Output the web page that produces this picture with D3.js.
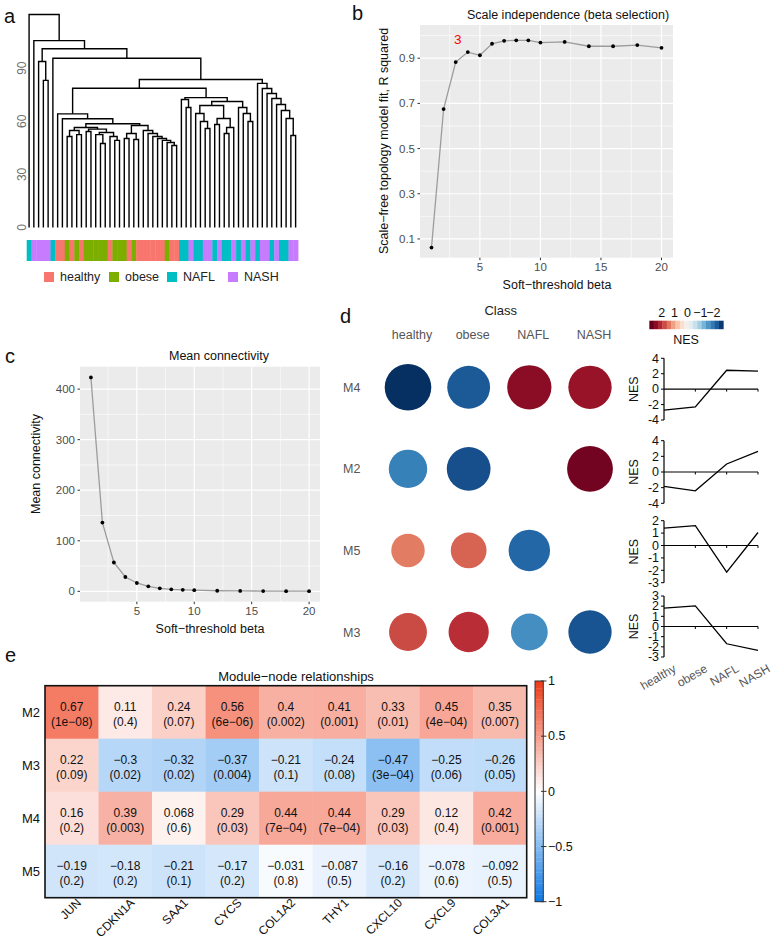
<!DOCTYPE html>
<html>
<head>
<meta charset="utf-8">
<script src="https://cdn.jsdelivr.net/npm/d3@7/dist/d3.min.js"></script>
<style>
html,body{margin:0;padding:0;background:#fff;}
svg{display:block;}
text{font-family:"Liberation Sans",Arial,Helvetica,sans-serif;}
</style>
</head>
<body>
<svg id="fig" width="777" height="941" viewBox="0 0 777 941"></svg>
<script>
// ================= DATA =================
// Panel a: sample dendrogram
const classNames = ["healthy", "obese", "NAFL", "NASH"];
const classColors = ["#F8766D", "#7CAE00", "#00BFC4", "#C77CFF"];
const sampleClass = [2, 3,3,3,3, 2, 0,0, 1, 0, 1, 0, 1,1,1,1,1, 0, 1,1,1, 0, 1, 0,0,0,0,0,0, 1, 0,0,
                     2,2, 3, 2,2, 3,3, 2, 3, 2,2, 3, 2, 3, 2, 3, 2, 3,3, 2, 3, 2,2, 3,3];
// merges: [height, left, right]; numbers are leaf indices
const subF1d = [56.5, [54.8, [51.4, 8, 9], [52.5, 10, 11]], [55.6, [54.2, 12, 13], [53.7, [52.5, 14, [47.5, 15, 16]], [51.4, 17, [49.2, 18, 19]]]]];
const subF1e = [57.6, [53.1, [50.3, 20, 21], [49.7, 22, 23]], [54.8, 24, [53.1, 25, [51.4, 26, [50.3, 27, [49.2, 28, [48.0, 29, [46.3, 30, 31]]]]]]]];
const subF1 = [64.2, 6, [61.4, 7, [58.6, subF1d, subF1e]]];
const subU1 = [64.4, 35, [59.9, 36, [55.9, 37, 38]]];
const subU2 = [61.6, [58.2, 39, 40], [56.5, [53.1, 41, 42], 43]];
const subT2b = [67.8, 44, [64.4, 45, [59.9, 46, 47]]];
const subF2 = [73.4, [72.3, 32, [67.8, 33, 34]], [71.2, [68.9, subU1, subU2], subT2b]];
const subG = [81.4, 48, [78.5, 49, [75.7, 50, [72.9, 51, [69.5, 52, [66.1, 53, [61.6, 54, [52.0, 55, 56]]]]]]]];
const dendroTree = [120.3, 0, [105.6, 1, [101.0, [93.8, 2, [83.1, 3, 4]], [95.6, 5, [83.6, [78.7, subF1, subF2], subG]]]]];
const dendroTicks = [0, 30, 60, 90];

// Panels b, c: soft-threshold selection
const betas = [1, 2, 3, 4, 5, 6, 7, 8, 9, 10, 12, 14, 16, 18, 20];
const rSquared = [0.062, 0.675, 0.883, 0.927, 0.913, 0.964, 0.977, 0.979, 0.979, 0.969, 0.972, 0.953, 0.953, 0.958, 0.946];
const meanConn = [423, 136, 57, 28.4, 16.5, 10, 6, 4, 3, 2.2, 1.2, 0.8, 0.6, 0.4, 0.3];
const chosenBeta = 3;
const betaTicks = [5, 10, 15, 20];
const betaMinor = [2.5, 7.5, 12.5, 17.5];
const r2Ticks = [0.1, 0.3, 0.5, 0.7, 0.9];
const r2Minor = [0.2, 0.4, 0.6, 0.8, 1.0];
const connTicks = [0, 100, 200, 300, 400];
const connMinor = [50, 150, 250, 350];

// Panel d: module NES per class
const modulesD = ["M4", "M2", "M5", "M3"];
const nesM4 = [-2.72, -2.3, 2.45, 2.35];
const nesM2 = [-1.85, -2.4, 1.02, 2.63];
const nesM5 = [1.4, 1.6, -2.15, 1.05];
const nesM3 = [1.8, 2.03, -1.7, -2.35];
const sigM4 = [1, 1, 1, 1];
const sigM2 = [1, 1, 0, 1];
const sigM5 = [1, 1, 1, 0];
const sigM3 = [1, 1, 1, 1];
const nesTicksM4 = [4, 2, 0, -2, -4];
const nesTicksM2 = [4, 2, 0, -2, -4];
const nesTicksM5 = [2, 1, 0, -1, -2, -3];
const nesTicksM3 = [3, 2, 1, 0, -1, -2, -3];
const nesLegendTicks = [2, 1, 0, -1, -2];

// Panel e: module-node relationships
const genes = ["JUN", "CDKN1A", "SAA1", "CYCS", "COL1A2", "THY1", "CXCL10", "CXCL9", "COL3A1"];
const heatRows = ["M2", "M3", "M4", "M5"];
const corM2 = [0.67, 0.11, 0.24, 0.56, 0.4, 0.41, 0.33, 0.45, 0.35];
const pM2 = [1e-8, 0.4, 0.07, 6e-6, 0.002, 0.001, 0.01, 4e-4, 0.007];
const corM3 = [0.22, -0.3, -0.32, -0.37, -0.21, -0.24, -0.47, -0.25, -0.26];
const pM3 = [0.09, 0.02, 0.02, 0.004, 0.1, 0.08, 3e-4, 0.06, 0.05];
const corM4 = [0.16, 0.39, 0.068, 0.29, 0.44, 0.44, 0.29, 0.12, 0.42];
const pM4 = [0.2, 0.003, 0.6, 0.03, 7e-4, 7e-4, 0.03, 0.4, 0.001];
const corM5 = [-0.19, -0.18, -0.21, -0.17, -0.031, -0.087, -0.16, -0.078, -0.092];
const pM5 = [0.2, 0.2, 0.1, 0.2, 0.8, 0.5, 0.2, 0.6, 0.5];
const corTicks = [1, 0.5, 0, -0.5, -1];

// ================= DRAWING =================
const svg = d3.select("#fig");
const MINUS = "\u2212";
const fmtNum = v => String(v).replace("-", MINUS);

function panelLabel(x, y, s) {
  svg.append("text").attr("x", x).attr("y", y).attr("font-size", 20).attr("fill", "#111").text(s);
}
panelLabel(4, 23, "a"); panelLabel(352, 20, "b"); panelLabel(5, 363, "c");
panelLabel(340, 323, "d"); panelLabel(5, 662, "e");

// ---------- Panel a ----------
(function () {
  const g = svg.append("g");
  const xLeaf = d3.scaleBand().domain(d3.range(sampleClass.length)).range([26.7, 298]);
  const yDen = d3.scaleLinear().domain([0, 120]).range([227.5, 15.1]);
  const toNode = a => Array.isArray(a) ? { h: a[0], kids: [toNode(a[1]), toNode(a[2])] } : { h: 0, leaf: a };
  const root = d3.hierarchy(toNode(dendroTree), d => d.kids);
  root.eachAfter(n => {
    n.px = n.children ? (n.children[0].px + n.children[1].px) / 2 : xLeaf(n.data.leaf) + xLeaf.bandwidth() / 2;
    n.py = yDen(n.data.h);
  });
  g.selectAll(null).data(root.descendants().filter(n => n.children)).enter().append("path")
    .attr("d", n => { const [a, b] = n.children; return `M${a.px},${a.py}V${n.py}H${b.px}V${b.py}`; })
    .attr("fill", "none").attr("stroke", "#000").attr("stroke-width", 1.4);
  g.selectAll(null).data(dendroTicks).enter().append("text")
    .attr("transform", t => `translate(26,${yDen(t)}) rotate(-90)`)
    .attr("text-anchor", "middle").attr("font-size", 12).attr("fill", "#707070").text(t => t);
  g.selectAll(null).data(sampleClass).enter().append("rect")
    .attr("x", (d, i) => xLeaf(i)).attr("y", 240).attr("width", xLeaf.bandwidth() + 0.4).attr("height", 21)
    .attr("fill", d => classColors[d]);
  const legX = [44, 109, 167, 228];
  classNames.forEach((c, i) => {
    g.append("rect").attr("x", legX[i]).attr("y", 272).attr("width", 10).attr("height", 10).attr("fill", classColors[i]);
    g.append("text").attr("x", legX[i] + 16).attr("y", 281).attr("font-size", 12.5).attr("fill", "#222").text(c);
  });
})();

// ---------- Panels b & c (ggplot style) ----------
function ggPanel(cfg) {
  const g = svg.append("g");
  const x = d3.scaleLinear().domain([0.05, 20.95]).range([cfg.x0, cfg.x1]);
  const y = d3.scaleLinear().domain(cfg.yDom).range([cfg.y1, cfg.y0]);
  g.append("rect").attr("x", cfg.x0).attr("y", cfg.y0).attr("width", cfg.x1 - cfg.x0).attr("height", cfg.y1 - cfg.y0).attr("fill", "#EBEBEB");
  const hl = (arr, w) => g.selectAll(null).data(arr).enter().append("line")
    .attr("x1", cfg.x0).attr("x2", cfg.x1).attr("y1", d => y(d)).attr("y2", d => y(d)).attr("stroke", "#fff").attr("stroke-width", w);
  const vl = (arr, w) => g.selectAll(null).data(arr).enter().append("line")
    .attr("y1", cfg.y0).attr("y2", cfg.y1).attr("x1", d => x(d)).attr("x2", d => x(d)).attr("stroke", "#fff").attr("stroke-width", w);
  hl(cfg.yMinor, 0.6); vl(betaMinor, 0.6); hl(cfg.yTicks, 1.2); vl(betaTicks, 1.2);
  const line = d3.line().x((d, i) => x(betas[i])).y(d => y(d));
  g.append("path").datum(cfg.vals).attr("d", line).attr("fill", "none").attr("stroke", "#9c9c9c").attr("stroke-width", 1.3);
  g.selectAll(null).data(cfg.vals).enter().append("circle")
    .attr("cx", (d, i) => x(betas[i])).attr("cy", d => y(d)).attr("r", 1.9).attr("fill", "#000");
  // axes
  g.selectAll(null).data(cfg.yTicks).enter().append("line")
    .attr("x1", cfg.x0 - 2.5).attr("x2", cfg.x0).attr("y1", d => y(d)).attr("y2", d => y(d)).attr("stroke", "#333").attr("stroke-width", 1);
  g.selectAll(null).data(cfg.yTicks).enter().append("text")
    .attr("x", cfg.x0 - 5).attr("y", d => y(d) + 4).attr("text-anchor", "end").attr("font-size", 11.5).attr("fill", "#4D4D4D").text(d => d);
  g.selectAll(null).data(betaTicks).enter().append("line")
    .attr("y1", cfg.y1).attr("y2", cfg.y1 + 2.5).attr("x1", d => x(d)).attr("x2", d => x(d)).attr("stroke", "#333").attr("stroke-width", 1);
  g.selectAll(null).data(betaTicks).enter().append("text")
    .attr("x", d => x(d)).attr("y", cfg.y1 + 13.5).attr("text-anchor", "middle").attr("font-size", 11.5).attr("fill", "#4D4D4D").text(d => d);
  g.append("text").attr("x", cfg.titleX).attr("y", cfg.y0 - 6.5).attr("text-anchor", "middle").attr("font-size", 12.5).attr("fill", "#111").text(cfg.title);
  g.append("text").attr("x", cfg.xlabX).attr("y", cfg.y1 + 31.5).attr("text-anchor", "middle").attr("font-size", 12.5).attr("fill", "#111").text("Soft" + MINUS + "threshold beta");
  g.append("text").attr("transform", `translate(${cfg.ylabX},${cfg.ylabY}) rotate(-90)`).attr("text-anchor", "middle").attr("font-size", 12.5).attr("fill", "#111").text(cfg.ylab);
  return { x, y, g };
}

const pb = ggPanel({
  x0: 420, x1: 673, y0: 25, y1: 257.7, yDom: [0.017, 1.047], yTicks: r2Ticks, yMinor: r2Minor, vals: rSquared,
  title: "Scale independence (beta selection)", titleX: 568, xlabX: 557,
  ylab: "Scale" + MINUS + "free topology model fit, R squared", ylabX: 388, ylabY: 141
});
pb.g.append("text").attr("x", pb.x(chosenBeta) + 2).attr("y", pb.y(rSquared[betas.indexOf(chosenBeta)] + 0.1) + 5)
  .attr("text-anchor", "middle").attr("font-size", 13.5).attr("fill", "#FF0000").text(chosenBeta);

ggPanel({
  x0: 80, x1: 320, y0: 366.7, y1: 601.7, yDom: [-20.5, 444.3], yTicks: connTicks, yMinor: connMinor, vals: meanConn,
  title: "Mean connectivity", titleX: 219, xlabX: 210,
  ylab: "Mean connectivity", ylabX: 40, ylabY: 464
});

// ---------- Panel d ----------
(function () {
  const g = svg.append("g");
  const nesRows = [nesM4, nesM2, nesM5, nesM3];
  const sigRows = [sigM4, sigM2, sigM5, sigM3];
  const tickRows = [nesTicksM4, nesTicksM2, nesTicksM5, nesTicksM3];
  const maxAbs = d3.max(nesRows.flat(), v => Math.abs(v));
  const col = v => d3.interpolateRdBu(Math.max(0, Math.min(1, (1 - v / maxAbs) / 2)));
  const rS = d3.scaleSqrt().domain([0, maxAbs]).range([0, 23.3]);
  const xC = d3.scalePoint().domain(classNames).range([408, 590]);
  const yR = d3.scalePoint().domain(modulesD).range([387.3, 632]);

  g.append("text").attr("x", 500.7).attr("y", 315).attr("text-anchor", "middle").attr("font-size", 13).attr("fill", "#222").text("Class");
  g.selectAll(null).data(classNames).enter().append("text")
    .attr("x", d => xC(d) + 4).attr("y", 338.5).attr("text-anchor", "middle").attr("font-size", 12.5).attr("fill", "#555").text(d => d);
  g.selectAll(null).data(modulesD).enter().append("text")
    .attr("x", 343).attr("y", d => yR(d) + 4.5).attr("font-size", 12.5).attr("fill", "#555").text(d => d);

  modulesD.forEach((m, r) => {
    classNames.forEach((c, k) => {
      if (!sigRows[r][k]) return;
      g.append("circle").attr("cx", xC(c)).attr("cy", yR(m)).attr("r", rS(Math.abs(nesRows[r][k]))).attr("fill", col(nesRows[r][k]));
    });
  });

  // colour legend
  const lx = d3.scaleLinear().domain([2, -2]).range([661.7, 713.3]);
  const nSteps = 17, vHi = 2.96, vLo = -2.78, stepV = (vHi - vLo) / nSteps;
  g.selectAll(null).data(d3.range(nSteps)).enter().append("rect")
    .attr("x", k => lx(vHi - k * stepV)).attr("y", 320.7)
    .attr("width", k => lx(vHi - (k + 1) * stepV) - lx(vHi - k * stepV) + 0.3).attr("height", 8.5)
    .attr("fill", k => col(vHi - (k + 0.5) * stepV));
  g.selectAll(null).data(nesLegendTicks).enter().append("text")
    .attr("x", d => lx(d)).attr("y", 316.5).attr("text-anchor", "middle").attr("font-size", 12.5).attr("fill", "#111").text(d => fmtNum(d));
  g.append("text").attr("x", 686).attr("y", 343.5).attr("text-anchor", "middle").attr("font-size", 12.5).attr("fill", "#111").text("NES");

  // small NES line charts
  const chartBox = [[358.3, 420], [440.7, 503.3], [520.7, 582.7], [596, 657]];
  const xL = d3.scalePoint().domain(classNames).range([664, 758]);
  modulesD.forEach((m, r) => {
    const ticks = tickRows[r];
    const y = d3.scaleLinear().domain(d3.extent(ticks)).range([chartBox[r][1], chartBox[r][0]]);
    const cg = g.append("g");
    cg.append("line").attr("x1", 664).attr("x2", 664).attr("y1", y(d3.max(ticks))).attr("y2", y(d3.min(ticks))).attr("stroke", "#000").attr("stroke-width", 1.2);
    cg.selectAll(null).data(ticks).enter().append("line")
      .attr("x1", 661).attr("x2", 664).attr("y1", d => y(d)).attr("y2", d => y(d)).attr("stroke", "#000").attr("stroke-width", 1);
    cg.selectAll(null).data(ticks).enter().append("text")
      .attr("x", 659).attr("y", d => y(d) + 4.3).attr("text-anchor", "end").attr("font-size", 12.5).attr("fill", "#111").text(d => d);
    cg.append("line").attr("x1", 664).attr("x2", 758).attr("y1", y(0)).attr("y2", y(0)).attr("stroke", "#000").attr("stroke-width", 1.2);
    cg.selectAll(null).data(classNames.slice(1)).enter().append("line")
      .attr("x1", d => xL(d)).attr("x2", d => xL(d)).attr("y1", y(0)).attr("y2", y(0) + 2.5).attr("stroke", "#000").attr("stroke-width", 1);
    cg.append("path").datum(nesRows[r]).attr("d", d3.line().x((d, i) => xL(classNames[i])).y(d => y(d)))
      .attr("fill", "none").attr("stroke", "#000").attr("stroke-width", 1.3);
    cg.append("text").attr("transform", `translate(637.5,${(chartBox[r][0] + chartBox[r][1]) / 2}) rotate(-90)`)
      .attr("text-anchor", "middle").attr("font-size", 12.5).attr("fill", "#111").text("NES");
  });
  g.selectAll(null).data(classNames).enter().append("text")
    .attr("transform", d => `translate(${xL(d) + 13},671) rotate(-30)`)
    .attr("text-anchor", "end").attr("font-size", 12).attr("fill", "#555").text(d => d);
})();

// ---------- Panel e ----------
(function () {
  const g = svg.append("g");
  const corRows = [corM2, corM3, corM4, corM5];
  const pRows = [pM2, pM3, pM4, pM5];
  const x = d3.scaleBand().domain(genes).range([45, 526.7]);
  const y = d3.scaleBand().domain(heatRows).range([685.7, 897.7]);
  const heat = d3.scaleLinear().domain([-1, 0, 1]).range(["#0A78E6", "#FFFFFF", "#EE3A17"]);
  const fmtP = p => {
    if (p >= 0.001) return String(p);
    const [mant, ex] = p.toExponential(0).split("e");
    return mant + "e" + MINUS + String(-Number(ex)).padStart(2, "0");
  };
  heatRows.forEach((r, ri) => {
    genes.forEach((gname, ci) => {
      const v = corRows[ri][ci];
      g.append("rect").attr("x", x(gname)).attr("y", y(r)).attr("width", x.bandwidth() + 0.3).attr("height", y.bandwidth() + 0.3).attr("fill", heat(v));
      const cx = x(gname) + x.bandwidth() / 2, cy = y(r) + y.bandwidth() / 2;
      g.append("text").attr("x", cx).attr("y", cy - 1).attr("text-anchor", "middle").attr("font-size", 12).attr("fill", "#111").text(fmtNum(v));
      g.append("text").attr("x", cx).attr("y", cy + 13.3).attr("text-anchor", "middle").attr("font-size", 12).attr("fill", "#111").text("(" + fmtP(pRows[ri][ci]) + ")");
    });
  });
  g.append("rect").attr("x", 45).attr("y", 685.7).attr("width", 481.7).attr("height", 212).attr("fill", "none").attr("stroke", "#111").attr("stroke-width", 1.6);
  g.selectAll(null).data(heatRows).enter().append("text")
    .attr("x", 40).attr("y", d => y(d) + y.bandwidth() / 2 + 4.5).attr("text-anchor", "end").attr("font-size", 13).attr("fill", "#111").text(d => d);
  g.selectAll(null).data(genes).enter().append("text")
    .attr("transform", d => `translate(${x(d) + x.bandwidth() / 2 + 10},903.5) rotate(-45)`)
    .attr("text-anchor", "end").attr("font-size", 12).attr("fill", "#111").text(d => d);
  g.append("text").attr("x", 296).attr("y", 680.5).attr("text-anchor", "middle").attr("font-size", 13).attr("fill", "#111").text("Module" + MINUS + "node relationships");

  // colour bar
  const cb = d3.scaleLinear().domain([-1, 1]).range([901.7, 681]);
  const n = 60;
  g.selectAll(null).data(d3.range(n)).enter().append("rect")
    .attr("x", 535).attr("width", 8.3)
    .attr("y", k => cb(-1 + (k + 1) * 2 / n)).attr("height", k => cb(-1 + k * 2 / n) - cb(-1 + (k + 1) * 2 / n) + 0.3)
    .attr("fill", k => heat(-1 + (k + 0.5) * 2 / n));
  g.append("rect").attr("x", 535).attr("y", 681).attr("width", 8.3).attr("height", 220.7).attr("fill", "none").attr("stroke", "#333").attr("stroke-width", 1);
  g.selectAll(null).data(corTicks).enter().append("line")
    .attr("x1", 541).attr("x2", 546.5).attr("y1", d => cb(d)).attr("y2", d => cb(d)).attr("stroke", "#333").attr("stroke-width", 1);
  g.selectAll(null).data(corTicks).enter().append("text")
    .attr("x", 548).attr("y", d => cb(d) + 4.3).attr("font-size", 12.5).attr("fill", "#111").text(d => fmtNum(d));
})();
</script>
</body>
</html>
